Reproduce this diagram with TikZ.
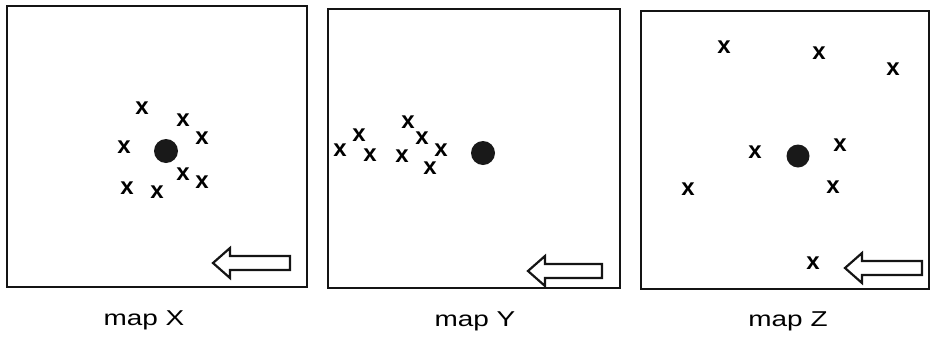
\documentclass[tikz,border=0pt]{standalone}
\usepackage{fontspec}
\setmainfont{Liberation Sans}
\newcommand\hollowleft[3]{%
  \draw[hollow] (#1,#2) -- (#1+17,#2-15) -- (#1+17,#2-7) -- (#3,#2-7)
    -- (#3,#2+7) -- (#1+17,#2+7) -- (#1+17,#2+15) -- cycle;}
\begin{document}
\begin{tikzpicture}[x=1pt,y=-1pt,
  frame/.style={line width=1.9pt, draw=black!92},
  cross/.style={inner sep=0pt, font=\fontsize{24}{24}\selectfont\bfseries},
  spot/.style={circle, fill=black!90, inner sep=0pt, minimum size=24pt},
  maplabel/.style={inner sep=0pt, font=\fontsize{21.5}{21.5}\selectfont, anchor=base},
  hollow/.style={line width=2.2pt, draw=black!92, fill=white, line join=miter}]
\useasboundingbox (0,0) rectangle (930,338);
% frames
\draw[frame] (7,6) rectangle (307,287);
\draw[frame] (328,9) rectangle (620,288);
\draw[frame] (641,11) rectangle (929,289);
% map X
\node[spot] (dx) at (166,151) {};
\node[cross] (x1) at (142,108) {x};
\node[cross] (x2) at (183,120) {x};
\node[cross] (x3) at (202,138) {x};
\node[cross] (x4) at (124,147) {x};
\node[cross] (x5) at (183,174) {x};
\node[cross] (x6) at (202,182) {x};
\node[cross] (x7) at (127,188) {x};
\node[cross] (x8) at (157,192) {x};
\hollowleft{213}{263}{290}
\node[maplabel] (lx) at (144,325) {\scalebox{1.3}[1]{map X}};
% map Y
\node[spot] (dy) at (483,153) {};
\node[cross] (y1) at (340,150) {x};
\node[cross] (y2) at (359,135) {x};
\node[cross] (y3) at (370,155) {x};
\node[cross] (y4) at (408,122) {x};
\node[cross] (y5) at (422,138) {x};
\node[cross] (y6) at (402,156) {x};
\node[cross] (y7) at (441,150) {x};
\node[cross] (y8) at (430,168) {x};
\hollowleft{528}{271}{602}
\node[maplabel] (ly) at (475,326) {\scalebox{1.3}[1]{map Y}};
% map Z
\node[spot, minimum size=23pt] (dz) at (798,156) {};
\node[cross] (z1) at (724,47) {x};
\node[cross] (z2) at (819,53) {x};
\node[cross] (z3) at (893,69) {x};
\node[cross] (z4) at (755,152) {x};
\node[cross] (z5) at (840,145) {x};
\node[cross] (z6) at (688,189) {x};
\node[cross] (z7) at (833,187) {x};
\node[cross] (z8) at (813,263) {x};
\hollowleft{845}{268}{922}
\node[maplabel] (lz) at (788,326) {\scalebox{1.3}[1]{map Z}};
\end{tikzpicture}
\end{document}
